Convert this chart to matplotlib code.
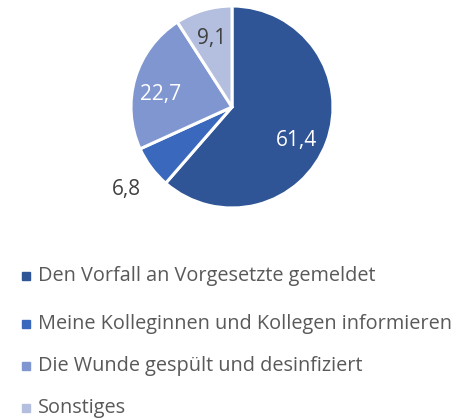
import numpy as np
import matplotlib.pyplot as plt

plt.rcParams['font.family'] = ['Open Sans', 'DejaVu Sans']

labels = [
    "Den Vorfall an Vorgesetzte gemeldet",
    "Meine Kolleginnen und Kollegen informieren",
    "Die Wunde gespült und desinfiziert",
    "Sonstiges",
]
values = [61.4, 6.8, 22.7, 9.1]
colors = ["#2F5597", "#3A68BC", "#7F96D0", "#B4BFE0"]
label_colors = ["white", "#404040", "white", "#404040"]
# radial position and small vertical nudge for each value label
label_radius = [0.68, 1.30, 0.74, 0.73]
label_dy = [-0.09, -0.04, -0.08, -0.02]

W, H = 464, 419
fig = plt.figure(figsize=(W / 100, H / 100), dpi=100)

cx, cy, r = 232, 312, 101
ax = fig.add_axes([(cx - r) / W, (cy - r) / H, 2 * r / W, 2 * r / H])
wedges, _ = ax.pie(values, colors=colors, startangle=90, counterclock=False,
                   wedgeprops=dict(edgecolor="white", linewidth=2.2))
ax.set_xlim(-1, 1)
ax.set_ylim(-1, 1)
ax.set_aspect("equal")

# value labels at wedge mid-angles
total = sum(values)
start = 90.0
for v, lc, lr, dy in zip(values, label_colors, label_radius, label_dy):
    mid = np.deg2rad(start - v / total * 360 / 2)
    ax.text(lr * np.cos(mid), lr * np.sin(mid) + dy, f"{v:.1f}".replace(".", ","),
            ha="center", va="center", color=lc, fontsize=15, clip_on=False)
    start -= v / total * 360

# legend
rows_y = [276, 324, 366, 408]
for lab, col, y in zip(labels, colors, rows_y):
    fig.patches.append(plt.Rectangle((22 / W, 1 - (y + 4) / H), 8 / W, 8 / H,
                                     transform=fig.transFigure, color=col))
    fig.text(38 / W, 1 - y / H, lab, ha="left", va="center",
             color="#595959", fontsize=14.3)

fig.savefig("out.png", dpi=100)
